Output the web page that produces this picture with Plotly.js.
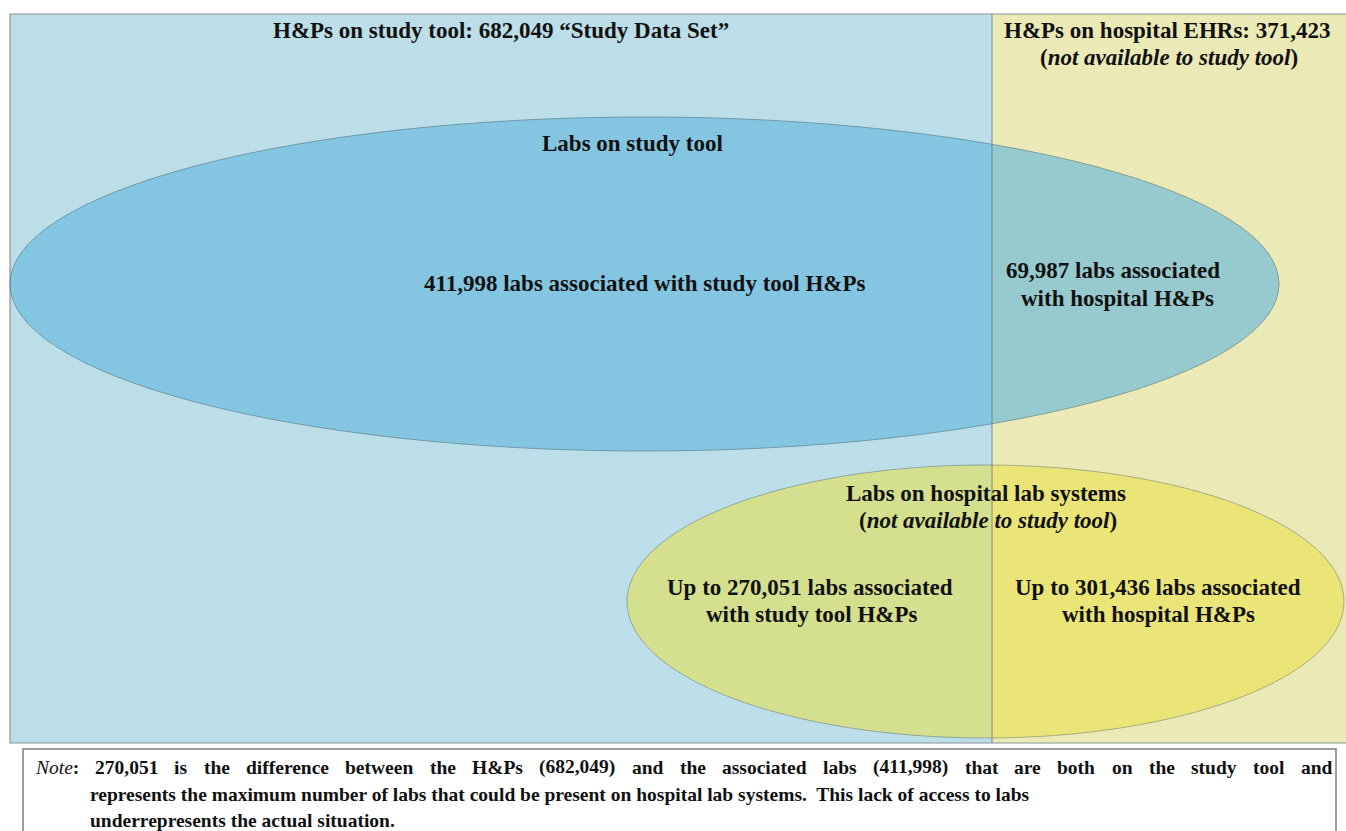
<!DOCTYPE html>
<html>
<head>
<meta charset="utf-8">
<script src="https://cdn.plot.ly/plotly-3.0.1.min.js"></script>
<style>
  html, body { margin: 0; padding: 0; background: #ffffff; }
  #chart { width: 1346px; height: 831px; }
</style>
</head>
<body>
<div id="chart"></div>
<script>
// ---- Data (counts) ----
const studyToolHPs = 682049;          // H&Ps on study tool ("Study Data Set")
const hospitalEhrHPs = 371423;        // H&Ps on hospital EHRs
const labsStudyToolHPs = 411998;      // labs on study tool, associated with study tool H&Ps
const labsHospitalHPsOnTool = 69987;  // labs on study tool, associated with hospital H&Ps
const upToLabsStudyToolHPs = 270051;  // labs on hospital lab systems, study tool H&Ps (max)
const upToLabsHospitalHPs = 301436;   // labs on hospital lab systems, hospital H&Ps (max)

const fmt = n => n.toLocaleString('en-US');

// ---- Layout geometry (diagram positions in pixel space) ----
const W = 1346, H = 831;
const FONT = 'Liberation Serif, Times New Roman, serif';
const LABEL_SIZE = 23;
const NOTE_SIZE = 19.5;
const frame = { left: 10, top: 14, right: 1352, bottom: 743 };
const divider = 992;
const bigEllipse = { x0: 10, x1: 1279, y0: 117, y1: 451 };
const yellowEllipse = { x0: 627, x1: 1344, y0: 465, y1: 738 };
const noteBox = { x0: 23, x1: 1336, y0: 749, y1: 845 };
const noteLine1 = { left: 33, right: 1330, y: 767 };

const shapes = [
  { type: 'rect', xref: 'x', yref: 'y', x0: frame.left, x1: divider, y0: frame.top, y1: frame.bottom,
    fillcolor: '#BBDEE8', line: { width: 0 } },
  { type: 'rect', xref: 'x', yref: 'y', x0: divider, x1: frame.right, y0: frame.top, y1: frame.bottom,
    fillcolor: '#EBEAB7', line: { width: 0 } },
  { type: 'rect', xref: 'x', yref: 'y', x0: frame.left, x1: frame.right, y0: frame.top, y1: frame.bottom,
    fillcolor: 'rgba(0,0,0,0)', line: { color: '#8C9296', width: 1.2 } },
  { type: 'circle', xref: 'x', yref: 'y', x0: bigEllipse.x0, x1: bigEllipse.x1, y0: bigEllipse.y0, y1: bigEllipse.y1,
    fillcolor: 'rgb(100,184,222)', opacity: 0.62, line: { color: '#3F6F84', width: 1 } },
  { type: 'circle', xref: 'x', yref: 'y', x0: yellowEllipse.x0, x1: yellowEllipse.x1, y0: yellowEllipse.y0, y1: yellowEllipse.y1,
    fillcolor: 'rgb(236,226,70)', opacity: 0.55, line: { color: '#6F7A55', width: 1 } },
  { type: 'line', xref: 'x', yref: 'y', x0: divider, x1: divider, y0: frame.top, y1: frame.bottom,
    line: { color: 'rgba(110,125,130,0.75)', width: 1.2 } },
  { type: 'rect', xref: 'x', yref: 'y', x0: noteBox.x0, x1: noteBox.x1, y0: noteBox.y0, y1: noteBox.y1,
    fillcolor: '#FFFFFF', line: { color: '#7E7E7E', width: 1.5 } }
];

function label(x, y, text, size, anchor) {
  return { xref: 'x', yref: 'y', x: x, y: y, text: text, showarrow: false,
           xanchor: anchor || 'center', yanchor: 'middle',
           font: { family: FONT, size: size || LABEL_SIZE, color: '#111111' } };
}
const esc = s => s.replace(/&/g, '&amp;');

const annotations = [
  label(501, 30, '<b>H&amp;Ps on study tool: ' + fmt(studyToolHPs) + ' \u201CStudy Data Set\u201D</b>'),
  label(1167, 30, '<b>H&amp;Ps on hospital EHRs: ' + fmt(hospitalEhrHPs) + '</b>'),
  label(1169, 57, '<b>(<i>not available to study tool</i>)</b>'),
  label(632, 143, '<b>Labs on study tool</b>'),
  label(645, 283, '<b>' + fmt(labsStudyToolHPs) + ' labs associated with study tool H&amp;Ps</b>'),
  label(1113, 270, '<b>' + fmt(labsHospitalHPsOnTool) + ' labs associated</b>'),
  label(1117, 298, '<b>with hospital H&amp;Ps</b>'),
  label(986, 493, '<b>Labs on hospital lab systems</b>'),
  label(988, 520, '<b>(<i>not available to study tool</i>)</b>'),
  label(810, 587, '<b>Up to ' + fmt(upToLabsStudyToolHPs) + ' labs associated</b>'),
  label(812, 614, '<b>with study tool H&amp;Ps</b>'),
  label(1158, 587, '<b>Up to ' + fmt(upToLabsHospitalHPs) + ' labs associated</b>'),
  label(1158, 614, '<b>with hospital H&amp;Ps</b>'),
  label(88, 794, '<b>represents the maximum number of labs that could be present on hospital lab systems.  This lack of access to labs</b>', NOTE_SIZE, 'left'),
  label(88, 820, '<b>underrepresents the actual situation.</b>', NOTE_SIZE, 'left')
];

// first note line is justified: lay out word by word
const noteWords = ['270,051', 'is', 'the', 'difference', 'between', 'the', 'H&Ps', '(' + fmt(studyToolHPs) + ')',
  'and', 'the', 'associated', 'labs', '(' + fmt(labsStudyToolHPs) + ')', 'that', 'are', 'both', 'on', 'the',
  'study', 'tool', 'and'];
noteWords[0] = fmt(upToLabsStudyToolHPs);

function buildNoteLine() {
  const ctx = document.createElement('canvas').getContext('2d');
  const bold = 'bold ' + NOTE_SIZE + 'px "Liberation Serif"';
  const ital = 'italic ' + NOTE_SIZE + 'px "Liberation Serif"';
  ctx.font = ital; const wNoteI = ctx.measureText('Note').width;
  ctx.font = bold; const wColon = ctx.measureText(':').width;
  const tokens = [{ html: '<i>Note</i><b>:</b>', w: wNoteI + wColon }];
  noteWords.forEach(wd => tokens.push({ html: '<b>' + esc(wd) + '</b>', w: ctx.measureText(wd).width }));
  const total = tokens.reduce((s, t) => s + t.w, 0);
  const gap = (noteLine1.right - noteLine1.left - total) / (tokens.length - 1);
  let x = noteLine1.left;
  const out = [];
  tokens.forEach(t => { out.push(label(x, noteLine1.y, t.html, NOTE_SIZE, 'left')); x += t.w + gap; });
  return out;
}

function draw() {
  const layout = {
    width: W, height: H,
    margin: { l: 0, r: 0, t: 0, b: 0, pad: 0 },
    paper_bgcolor: '#FFFFFF', plot_bgcolor: '#FFFFFF',
    showlegend: false,
    xaxis: { range: [0, W], visible: false, fixedrange: true },
    yaxis: { range: [H, 0], visible: false, fixedrange: true },
    shapes: shapes,
    annotations: annotations.concat(buildNoteLine())
  };
  Plotly.newPlot('chart', [{ x: [], y: [], type: 'scatter', mode: 'markers', hoverinfo: 'skip' }], layout,
    { displayModeBar: false, staticPlot: true });
}

if (document.fonts && document.fonts.load) {
  Promise.all([
    document.fonts.load('bold ' + NOTE_SIZE + 'px "Liberation Serif"'),
    document.fonts.load('italic ' + NOTE_SIZE + 'px "Liberation Serif"')
  ]).then(draw, draw);
} else {
  draw();
}
</script>
</body>
</html>
